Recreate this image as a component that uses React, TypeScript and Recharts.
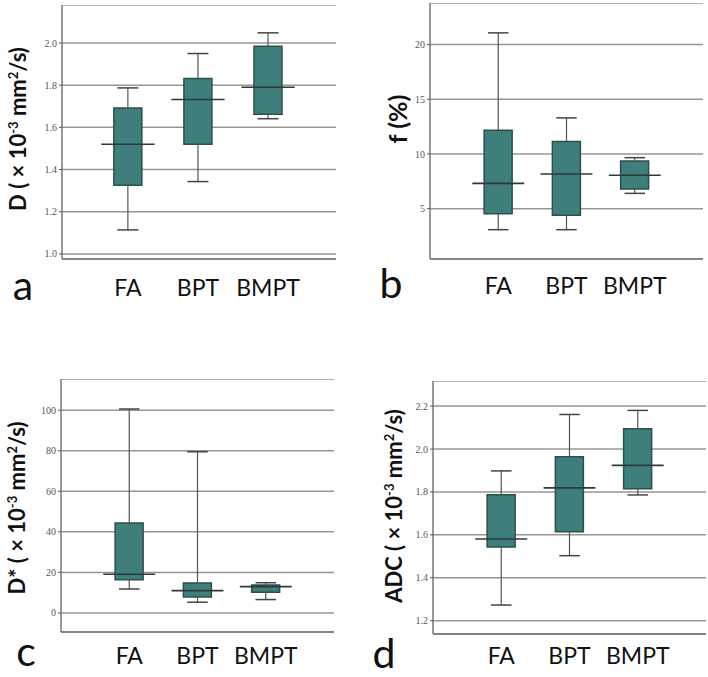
import React from 'react'
import {
  ComposedChart, Bar, XAxis, YAxis, CartesianGrid, ReferenceLine,
} from 'recharts'

const groups = ['FA', 'BPT', 'BMPT']

// D (x10^-3 mm2/s)
const dMin = [1.114, 1.343, 1.641]
const dQ1 = [1.325, 1.52, 1.662]
const dMed = [1.52, 1.732, 1.79]
const dQ3 = [1.692, 1.832, 1.984]
const dMax = [1.787, 1.95, 2.048]
const dTicks = [1.0, 1.2, 1.4, 1.6, 1.8, 2.0]

// f (%)
const fMin = [3.08, 3.08, 6.4]
const fQ1 = [4.54, 4.39, 6.8]
const fMed = [7.31, 8.17, 8.05]
const fQ3 = [12.16, 11.15, 9.36]
const fMax = [21.07, 13.3, 9.66]
const fTicks = [5, 10, 15, 20]

// D* (x10^-3 mm2/s)
const sMin = [11.8, 5.3, 6.6]
const sQ1 = [16.4, 7.9, 10.2]
const sMed = [19.1, 11.0, 13.0]
const sQ3 = [44.4, 14.8, 13.8]
const sMax = [100.6, 79.5, 14.9]
const sTicks = [0, 20, 40, 60, 80, 100]

// ADC (x10^-3 mm2/s)
const aMin = [1.273, 1.503, 1.786]
const aQ1 = [1.544, 1.615, 1.815]
const aMed = [1.581, 1.819, 1.924]
const aQ3 = [1.787, 1.964, 2.095]
const aMax = [1.898, 2.161, 2.18]
const aTicks = [1.2, 1.4, 1.6, 1.8, 2.0, 2.2]

const build = (mn: number[], q1: number[], md: number[], q3: number[], mx: number[]) =>
  groups.map((g, i) => ({ x: i + 1, name: g, min: mn[i], q1: q1[i], med: md[i], q3: q3[i], max: mx[i] }))

const TEAL = '#3f7f7b'
const EDGE = '#2b4f4c'
const GRID = '#8a8a8a'
const SANS = 'Lato, "Open Sans", sans-serif'

type Row = ReturnType<typeof build>[number]

interface PanelProps {
  rows: Row[]; plotLeft: number; plotTop: number; plotW: number; plotH: number
  yDomain: [number, number]; ticks: number[]; fmt: (v: number) => string
  xDomain?: [number, number]; labelGap: number
}

const YW = 60
const XH = 48

function Panel({ rows, plotLeft, plotTop, plotW, plotH, yDomain, ticks, fmt, xDomain = [0, 4], labelGap }: PanelProps) {
  return (
    <div style={{ position: 'absolute', left: plotLeft - YW, top: plotTop }}>
      <ComposedChart width={YW + plotW + 2} height={plotH + XH} data={rows}
        margin={{ top: 0, right: 2, left: 0, bottom: 0 }}>
        <CartesianGrid vertical={false} stroke={GRID} strokeWidth={1.5} strokeOpacity={0.9} />
        <XAxis type="number" dataKey="x" domain={xDomain} ticks={[1, 2, 3]} allowDataOverflow
          tickFormatter={v => groups[Number(v) - 1]} tickLine={false} tickMargin={labelGap}
          height={XH} axisLine={{ stroke: '#777', strokeWidth: 1.5 }}
          tick={{ fontSize: 23, fill: '#111', fontFamily: SANS }} />
        <XAxis xAxisId="top" orientation="top" type="number" domain={xDomain} height={0}
          tick={false} tickLine={false} axisLine={{ stroke: '#777', strokeWidth: 1.5 }} />
        <YAxis type="number" domain={yDomain} ticks={ticks} allowDataOverflow width={YW}
          tickFormatter={v => fmt(Number(v))} tickSize={3} tickMargin={2}
          axisLine={{ stroke: '#777', strokeWidth: 1.5 }} tickLine={{ stroke: '#555' }}
          tick={{ fontSize: 10, fill: '#555', fontFamily: '"Liberation Serif", serif' }} />
        <YAxis yAxisId="r" orientation="right" type="number" domain={yDomain} width={0}
          tick={false} tickLine={false} axisLine={{ stroke: '#777', strokeWidth: 1.5 }} />
        <Bar dataKey={(d: Row) => [d.q1, d.q3]} barSize={28} fill={TEAL} stroke={EDGE}
          strokeWidth={1.5} isAnimationActive={false} />
        {rows.map(r => (
          <React.Fragment key={r.name}>
            <ReferenceLine segment={[{ x: r.x, y: r.min }, { x: r.x, y: r.q1 }]} stroke="#555" strokeWidth={1.2} />
            <ReferenceLine segment={[{ x: r.x, y: r.q3 }, { x: r.x, y: r.max }]} stroke="#555" strokeWidth={1.2} />
            <ReferenceLine segment={[{ x: r.x - 0.15, y: r.min }, { x: r.x + 0.15, y: r.min }]} stroke="#444" strokeWidth={1.5} />
            <ReferenceLine segment={[{ x: r.x - 0.15, y: r.max }, { x: r.x + 0.15, y: r.max }]} stroke="#444" strokeWidth={1.5} />
            <ReferenceLine segment={[{ x: r.x - 0.38, y: r.med }, { x: r.x + 0.38, y: r.med }]} stroke="#2e3a39" strokeWidth={1.6} />
          </React.Fragment>
        ))}
      </ComposedChart>
    </div>
  )
}

const f1 = (v: number) => v.toFixed(1)
const f0 = (v: number) => String(Math.round(v))

function YLabel({ cx, cy, size = 22, children }: { cx: number; cy: number; size?: number; children: React.ReactNode }) {
  return (
    <div style={{
      position: 'absolute', left: cx, top: cy, transform: 'translate(-50%, -50%) rotate(-90deg)',
      whiteSpace: 'nowrap', fontFamily: SANS, fontWeight: 700, fontSize: size, lineHeight: 1, color: '#111',
    }}>{children}</div>
  )
}

function Letter({ x, y, children }: { x: number; y: number; children: React.ReactNode }) {
  return (
    <div style={{
      position: 'absolute', left: x, top: y, transform: 'translate(-50%, -50%)',
      fontFamily: SANS, fontSize: 41, lineHeight: 1, color: '#111',
    }}>{children}</div>
  )
}

const sup: React.CSSProperties = { fontSize: 13, verticalAlign: 'super', lineHeight: 0 }
const unit = (<> ( × 10<span style={sup}>-3</span> mm<span style={sup}>2</span>/s)</>)

export default function App() {
  return (
    <div style={{ position: 'absolute', left: 0, top: 0, width: 708, height: 677, background: '#fff', overflow: 'hidden' }}>
      <Panel rows={build(dMin, dQ1, dMed, dQ3, dMax)} plotLeft={62} plotTop={5} plotW={274} plotH={254}
        yDomain={[0.976, 2.18]} ticks={dTicks} fmt={f1} xDomain={[0.06, 3.97]} labelGap={15} />
      <Panel rows={build(fMin, fQ1, fMed, fQ3, fMax)} plotLeft={430} plotTop={3} plotW={273} plotH={256}
        yDomain={[0.4, 23.8]} ticks={fTicks} fmt={f0} labelGap={13} />
      <Panel rows={build(sMin, sQ1, sMed, sQ3, sMax)} plotLeft={61} plotTop={379} plotW={273} plotH={253}
        yDomain={[-9.4, 115.4]} ticks={sTicks} fmt={f0} labelGap={10} />
      <Panel rows={build(aMin, aQ1, aMed, aQ3, aMax)} plotLeft={433} plotTop={381} plotW={273} plotH={253}
        yDomain={[1.138, 2.317]} ticks={aTicks} fmt={f1} labelGap={8} />

      <YLabel cx={18} cy={129}>D{unit}</YLabel>
      <YLabel cx={397} cy={119} size={25}>f (%)</YLabel>
      <YLabel cx={17} cy={508}>D*{unit}</YLabel>
      <YLabel cx={394} cy={506}>ADC{unit}</YLabel>

      <Letter x={23} y={284}>a</Letter>
      <Letter x={391} y={282}>b</Letter>
      <Letter x={26} y={650}>c</Letter>
      <Letter x={384} y={652}>d</Letter>
    </div>
  )
}
